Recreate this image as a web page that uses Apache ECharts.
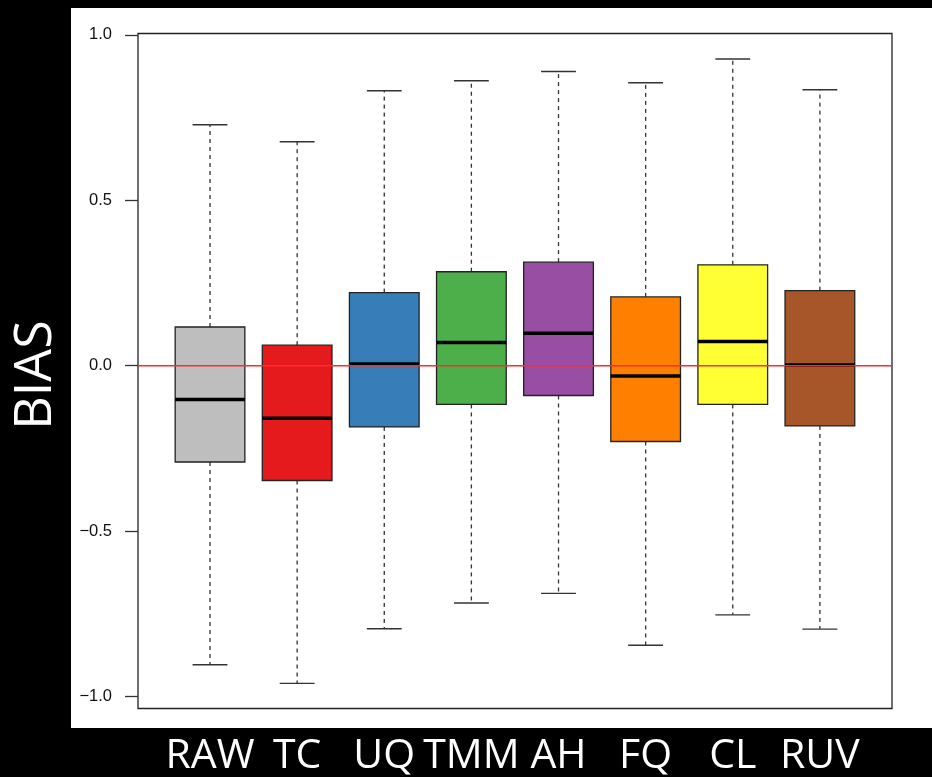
<!DOCTYPE html>
<html>
<head>
<meta charset="utf-8">
<script src="https://cdn.jsdelivr.net/npm/echarts@6/dist/echarts.min.js"></script>
<style>
  html, body { margin: 0; padding: 0; background: #000; }
  #chart { width: 932px; height: 777px; }
</style>
</head>
<body>
<div id="chart"></div>
<script>
// Bias of each normalization method, summarised as box plots
const categories   = ['RAW', 'TC', 'UQ', 'TMM', 'AH', 'FQ', 'CL', 'RUV'];
const whiskerLow   = [-0.904, -0.960, -0.795, -0.717, -0.688, -0.845, -0.753, -0.796];
const quartile1    = [-0.291, -0.347, -0.185, -0.117, -0.090, -0.229, -0.117, -0.182];
const medians      = [-0.102, -0.159,  0.005,  0.070,  0.098, -0.031,  0.073,  0.002];
const quartile3    = [ 0.117,  0.062,  0.221,  0.284,  0.313,  0.208,  0.305,  0.227];
const whiskerHigh  = [ 0.728,  0.677,  0.831,  0.861,  0.889,  0.855,  0.927,  0.834];
const boxColors    = ['#BEBEBE', '#E41A1C', '#377EB8', '#4DAF4A', '#984EA3', '#FF7F00', '#FFFF33', '#A65628'];
const yTicks       = [-1, -0.5, 0, 0.5, 1];
const yTitle       = 'BIAS';
const referenceLevel = 0;

const Y_MIN = -1.036, Y_MAX = 1.004;

const rows = categories.map((c, i) => [i, whiskerLow[i], quartile1[i], medians[i], quartile3[i], whiskerHigh[i]]);

function fmtTick(v) {
  const s = Math.abs(v).toFixed(1);
  return v < 0 ? '\u2212' + s : s;
}

function renderBox(params, api) {
  const i = api.value(0);
  const band = api.size([1, 0])[0];
  const boxW = band * 0.8;
  const capW = boxW * 0.5;
  const x = api.coord([i, 0])[0];
  const yLo = api.coord([i, api.value(1)])[1];
  const yQ1 = api.coord([i, api.value(2)])[1];
  const yMed = api.coord([i, api.value(3)])[1];
  const yQ3 = api.coord([i, api.value(4)])[1];
  const yHi = api.coord([i, api.value(5)])[1];
  const whiskerStyle = { stroke: '#333', lineWidth: 1.3, lineDash: [4, 4] };
  const capStyle = { stroke: '#333', lineWidth: 1.4 };
  return {
    type: 'group',
    children: [
      { type: 'line', shape: { x1: x, y1: yQ3, x2: x, y2: yHi }, style: whiskerStyle },
      { type: 'line', shape: { x1: x, y1: yQ1, x2: x, y2: yLo }, style: whiskerStyle },
      { type: 'line', shape: { x1: x - capW / 2, y1: yHi, x2: x + capW / 2, y2: yHi }, style: capStyle },
      { type: 'line', shape: { x1: x - capW / 2, y1: yLo, x2: x + capW / 2, y2: yLo }, style: capStyle },
      { type: 'rect', shape: { x: x - boxW / 2, y: yQ3, width: boxW, height: yQ1 - yQ3 },
        style: { fill: boxColors[i], stroke: '#222', lineWidth: 1.3 } },
      { type: 'line', shape: { x1: x - boxW / 2, y1: yMed, x2: x + boxW / 2, y2: yMed },
        style: { stroke: '#000', lineWidth: 3.5 } }
    ]
  };
}

const chart = echarts.init(document.getElementById('chart'), null, { renderer: 'canvas' });
chart.setOption({
  backgroundColor: '#000',
  animation: false,
  graphic: [
    { type: 'rect', z: -100, shape: { x: 71, y: 8, width: 861, height: 720 }, style: { fill: '#fff' } },
    { type: 'text', x: 36, y: 375, rotation: Math.PI / 2,
      style: { text: yTitle, fill: '#fff', font: '52px "Open Sans"', align: 'center', verticalAlign: 'middle' } }
  ],
  grid: [
    { left: 138, top: 33.5, width: 754, height: 675, show: true, borderColor: '#222', borderWidth: 1.3, backgroundColor: 'transparent' },
    { left: 166.45, top: 33.5, width: 697, height: 675 }
  ],
  xAxis: [
    { gridIndex: 0, type: 'value', min: 0, max: 1, show: false },
    { gridIndex: 1, type: 'category', data: categories, boundaryGap: true,
      axisLine: { show: false },
      axisTick: { show: true, alignWithLabel: true, length: 13, lineStyle: { color: '#333', width: 1.3 } },
      axisLabel: { interval: 0, color: '#fff', fontSize: 41, lineHeight: 41, fontFamily: 'Open Sans', margin: 27 },
      splitLine: { show: false } }
  ],
  yAxis: [
    { gridIndex: 0, type: 'value', min: Y_MIN, max: Y_MAX,
      axisLine: { show: false },
      axisTick: { show: true, length: 13, customValues: yTicks, lineStyle: { color: '#333', width: 1.3 } },
      axisLabel: { customValues: yTicks, formatter: fmtTick, color: '#111', fontSize: 16.5,
                   fontFamily: 'Liberation Sans', margin: 26 },
      splitLine: { show: false } },
    { gridIndex: 1, type: 'value', min: Y_MIN, max: Y_MAX, show: false }
  ],
  series: [
    { type: 'custom', xAxisIndex: 1, yAxisIndex: 1, renderItem: renderBox,
      encode: { x: 0, y: [1, 2, 3, 4, 5] }, data: rows, z: 2 },
    { type: 'line', xAxisIndex: 0, yAxisIndex: 0, data: [[0, referenceLevel], [1, referenceLevel]],
      symbol: 'none', lineStyle: { color: '#FF2A2A', width: 1.6 }, z: 5, silent: true }
  ]
});
</script>
</body>
</html>
